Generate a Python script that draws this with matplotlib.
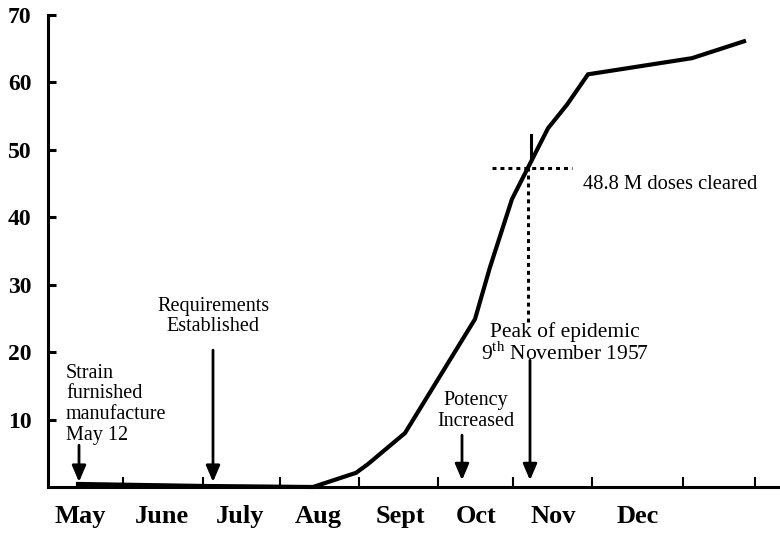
import matplotlib
matplotlib.use("Agg")
import matplotlib.pyplot as plt
from matplotlib.patches import ArrowStyle

plt.rcParams['font.family'] = ['Liberation Serif', 'DejaVu Serif']
plt.rcParams['mathtext.fontset'] = 'custom'
plt.rcParams['mathtext.rm'] = 'Liberation Serif'

# timeline position (arbitrary units, May 1 = 0) vs millions of doses cleared
curve_x = [30, 157, 265, 308, 320, 357, 427, 442, 464, 500, 519, 540, 644, 696]
curve_y = [0.45, 0.15, 0.0, 2.1, 3.4, 8.0, 24.9, 32.6, 42.7, 53.2, 56.7, 61.2, 63.6, 66.1]

month_edges = [75, 155, 232, 311, 390, 465, 544, 635, 707]
month_pos = [32, 114, 192, 270, 352, 428, 505, 590]
month_names = ["May", "June", "July", "Aug", "Sept", "Oct", "Nov", "Dec"]
y_ticks = [10, 20, 30, 40, 50, 60, 70]

peak_x = 480
peak_y = 47.3

fig = plt.figure(figsize=(7.8, 5.33), dpi=100)
ax = fig.add_axes([48 / 780, 46 / 533, 732 / 780, 472 / 533])
ax.set_xlim(0, 732)
ax.set_ylim(0, 70)

ax.plot(curve_x, curve_y, color="black", lw=3.0, clip_on=False, zorder=5,
        solid_joinstyle="miter")

for s in ["top", "right"]:
    ax.spines[s].set_visible(False)
for s in ["left", "bottom"]:
    ax.spines[s].set_linewidth(2.2)

ax.set_yticks(y_ticks)
ax.set_yticklabels([str(v) for v in y_ticks], fontsize=17, fontweight="bold")
ax.tick_params(axis="y", direction="in", length=6, width=2.2, pad=12)

ax.set_xticks(month_edges)
ax.set_xticklabels([])
ax.tick_params(axis="x", which="major", direction="in", length=7, width=1.5)
ax.set_xticks(month_pos, minor=True)
ax.set_xticklabels(month_names, minor=True, fontsize=19, fontweight="bold")
ax.tick_params(axis="x", which="minor", length=0, pad=13)

# peak marker
ax.plot([444, 524], [peak_y, peak_y], color="black", lw=2.2, ls=(0, (1.3, 1.3)))
ax.plot([peak_x, peak_x], [24.4, peak_y], color="black", lw=2.2, ls=(0, (1.3, 1.3)))
ax.plot([483, 483], [48.9, 52.2], color="black", lw=2.2)

arrow = ArrowStyle("-|>", head_length=0.7, head_width=0.3)
def down_arrow(x, y0, y1):
    ax.annotate("", xy=(x, y1), xytext=(x, y0),
                arrowprops=dict(arrowstyle=arrow, mutation_scale=14, lw=2,
                                color="black", shrinkA=0, shrinkB=0))

down_arrow(31, 6.2, 0.75)
down_arrow(165, 20.3, 0.75)
down_arrow(414, 7.7, 1.0)
down_arrow(482, 18.8, 1.0)

ax.text(18, 12.3, "Strain\nfurnished\nmanufacture\nMay 12", fontsize=14.5,
        ha="left", va="center", linespacing=1.12)
ax.text(165, 25.3, "Requirements\nEstablished", fontsize=14.5,
        ha="center", va="center", linespacing=1.1)
ax.text(428, 11.3, "Potency\nIncreased", fontsize=14.5,
        ha="center", va="center", linespacing=1.1)
ax.text(517, 21.3, "Peak of epidemic\n9$^{\\mathrm{th}}$ November 1957", fontsize=15.5,
        ha="center", va="center", linespacing=1.0)
ax.text(535, 44.8, "48.8 M doses cleared", fontsize=14.8, ha="left", va="center")

fig.savefig("out.png", dpi=100)
